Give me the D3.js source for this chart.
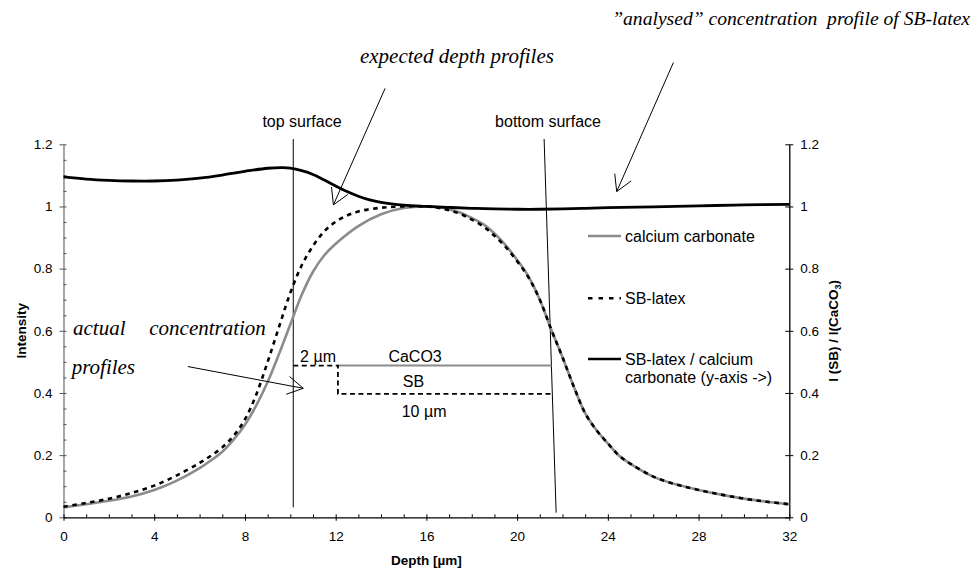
<!DOCTYPE html>
<html>
<head>
<meta charset="utf-8">
<script src="https://cdn.jsdelivr.net/npm/d3@7"></script>
<style>
  body { margin: 0; background: #fff; }
  svg { display: block; }
  text { font-family: "Liberation Sans", Arial, sans-serif; fill: #000; }
  .serif { font-family: "Liberation Serif", "Times New Roman", serif; font-style: italic; font-size: 21px; white-space: pre; }
</style>
</head>
<body>
<svg id="chart" width="977" height="574"></svg>
<script>
// ---- depth profiles (intensity, normalised) ----
const caco3Depth = [0,1,2,3,4,5,6,6.5,7,7.5,8,8.5,9,9.5,10,10.5,11,11.5,12,13,14,15,16,16.5,17,17.5,18,18.5,19,19.5,20,20.5,21,21.5,22,22.5,23,23.5,24,24.5,25,26,27,28,29,30,31,32];
const caco3 = [0.032,0.042,0.053,0.067,0.088,0.118,0.158,0.183,0.211,0.25,0.298,0.36,0.435,0.525,0.62,0.715,0.79,0.843,0.88,0.937,0.975,0.995,1.0,0.998,0.991,0.98,0.963,0.943,0.913,0.875,0.828,0.775,0.70,0.605,0.515,0.42,0.335,0.28,0.238,0.198,0.172,0.131,0.106,0.088,0.073,0.06,0.05,0.042];

const sbDepth = [0,1,2,3,4,5,6,6.5,7,7.5,8,8.5,9,9.5,10,10.5,11,11.5,12,12.5,13,14,15,16,16.5,17,17.5,18,18.5,19,19.5,20,20.5,21,21.5,22,22.5,23,23.5,24,24.5,25,26,27,28,29,30,31,32];
const sbLatex = [0.034,0.046,0.06,0.078,0.102,0.135,0.175,0.198,0.225,0.262,0.315,0.395,0.5,0.612,0.722,0.81,0.873,0.92,0.951,0.971,0.984,0.996,1.0,1.0,0.996,0.988,0.976,0.958,0.936,0.906,0.869,0.824,0.772,0.70,0.605,0.515,0.42,0.335,0.28,0.238,0.198,0.172,0.131,0.106,0.088,0.073,0.06,0.05,0.042];

// ratio I(SB)/I(CaCO3), right axis
const ratioDepth = [0,1,2,3,4,5,6,7,8,9,9.7,10,10.5,11,11.5,12,12.5,13,13.5,14,15,16,17,18,19,20,21,22,23,24,26,28,30,32];
const ratio = [1.095,1.088,1.084,1.082,1.082,1.085,1.091,1.101,1.113,1.123,1.125,1.123,1.115,1.103,1.085,1.066,1.048,1.033,1.021,1.013,1.004,1.0,0.997,0.994,0.992,0.991,0.991,0.992,0.994,0.996,0.999,1.002,1.005,1.007];

// ---- axis ticks ----
const xTicks = [0,4,8,12,16,20,24,28,32];
const xTickLabels = ["0","4","8","12","16","20","24","28","32"];
const yTicks = [0,0.2,0.4,0.6,0.8,1.0,1.2];
const yTickLabels = ["0","0.2","0.4","0.6","0.8","1","1.2"];
const y2TickLabels = ["0","0.2","0.4","0.6","0.8","1","1.2"];

// ---- idealised (expected) step profiles ----
const caco3Step = [[12.1,0.488],[21.52,0.488]];
const sbStep = [[10.13,0.488],[12.1,0.488],[12.1,0.397],[21.52,0.397]];
const topSurface = [[10.13,1.217],[10.13,0.032]];
const bottomSurface = [[21.19,1.217],[21.72,0.015]];

const svg = d3.select("#chart");
svg.append("rect").attr("width",977).attr("height",574).attr("fill","#fff");

const x = d3.scaleLinear().domain([0,32]).range([63.5,789.3]);
const y = d3.scaleLinear().domain([0,1.2]).range([517.3,144.3]);
const y2 = y.copy();

const axisFont = g => g.attr("font-size",13.5).attr("font-family","'Liberation Sans', Arial, sans-serif");

// left axis
const gL = svg.append("g").attr("transform",`translate(${x(0)},0)`)
  .call(d3.axisLeft(y).tickValues(yTicks).tickFormat((d,i)=>yTickLabels[i]).tickSizeInner(4).tickSizeOuter(0).tickPadding(7))
  .call(axisFont);
gL.selectAll(".tick line").attr("x1",3).attr("stroke","#555");
gL.select(".domain").attr("stroke","#777").attr("stroke-width",1.3);
svg.append("g").attr("transform",`translate(${x(0)},0)`)
  .call(d3.axisLeft(y).tickValues(d3.range(0,1.2001,0.05).filter(v=>Math.abs(v*5-Math.round(v*5))>1e-6)).tickSize(-3).tickFormat(""))
  .call(g=>{g.select(".domain").remove(); g.selectAll("line").attr("stroke","#555");});

// bottom axis
const gB = svg.append("g").attr("transform",`translate(0,${y(0)})`)
  .call(d3.axisBottom(x).tickValues(xTicks).tickFormat((d,i)=>xTickLabels[i]).tickSizeInner(3.5).tickSizeOuter(0).tickPadding(11))
  .call(axisFont);
gB.selectAll(".tick line").attr("y1",-3);
gB.select(".domain").attr("stroke-width",1.3);
svg.append("g").attr("transform",`translate(0,${y(0)})`)
  .call(d3.axisBottom(x).tickValues(d3.range(0,33,1).filter(v=>v%4!==0)).tickSize(-3).tickFormat(""))
  .call(g=>g.select(".domain").remove());

// right axis
const gR = svg.append("g").attr("transform",`translate(${x(32)},0)`)
  .call(d3.axisRight(y2).tickValues(yTicks).tickFormat((d,i)=>y2TickLabels[i]).tickSizeInner(4).tickSizeOuter(0).tickPadding(7))
  .call(axisFont);
gR.selectAll(".tick line").attr("x1",-4);
gR.select(".domain").attr("stroke-width",1.3);

// axis titles
svg.append("text").attr("x",x(16)).attr("y",565).attr("text-anchor","middle")
  .attr("font-size",13.5).attr("font-weight","bold").text("Depth [µm]");
svg.append("text").attr("transform",`translate(25.5,${(y(0)+y(1.2))/2}) rotate(-90)`).attr("text-anchor","middle")
  .attr("font-size",13.5).attr("font-weight","bold").text("Intensity");
const rt = svg.append("text").attr("transform",`translate(838,${(y(0)+y(1.2))/2}) rotate(-90)`).attr("text-anchor","middle")
  .attr("font-size",13.5).attr("font-weight","bold");
rt.append("tspan").text("I (SB) / I(CaCO");
rt.append("tspan").attr("font-size",9).attr("dy",3).text("3");
rt.append("tspan").attr("dy",-3).text(")");

// surface markers
const seg = d3.line().x(d=>x(d[0])).y(d=>y(d[1]));
svg.append("path").attr("d",seg(topSurface)).attr("stroke","#000").attr("stroke-width",1).attr("fill","none");
svg.append("path").attr("d",seg(bottomSurface)).attr("stroke","#000").attr("stroke-width",1).attr("fill","none");

// step profiles
svg.append("path").attr("d",seg(caco3Step)).attr("stroke","#8c8c8c").attr("stroke-width",2).attr("fill","none");
svg.append("path").attr("d",seg(sbStep)).attr("stroke","#000").attr("stroke-width",1.8).attr("stroke-dasharray","5,3.5").attr("fill","none");

// measured curves
const curve = (xs,ys,yy) => d3.line().curve(d3.curveCatmullRom.alpha(0.5)).x((d,i)=>x(xs[i])).y((d,i)=>yy(ys[i]))(ys);
svg.append("path").attr("d",curve(caco3Depth,caco3,y)).attr("stroke","#8c8c8c").attr("stroke-width",2.6).attr("fill","none");
svg.append("path").attr("d",curve(sbDepth,sbLatex,y)).attr("stroke","#000").attr("stroke-width",2.6).attr("stroke-dasharray","4.5,4.5").attr("fill","none");
svg.append("path").attr("d",curve(ratioDepth,ratio,y2)).attr("stroke","#000").attr("stroke-width",2.8).attr("fill","none");

// step labels
const lab = (t,dx,dy,anchor) => svg.append("text").attr("x",x(dx)).attr("y",y(dy)).attr("text-anchor",anchor).attr("font-size",16).text(t);
lab("2 µm",10.43,0.5,"start");
lab("CaCO3",15.5,0.5,"middle");
lab("SB",15.43,0.42,"middle");
lab("10 µm",15.9,0.324,"middle");
lab("top surface",8.77,1.255,"start");
lab("bottom surface",19.03,1.255,"start");

// legend
const legend = [
  {label:["calcium carbonate"], stroke:"#8c8c8c", dash:null, y:236},
  {label:["SB-latex"], stroke:"#000", dash:"4.5,6", y:298.3},
  {label:["SB-latex / calcium","carbonate (y-axis ->)"], stroke:"#000", dash:null, y:359}
];
legend.forEach(l=>{
  svg.append("line").attr("x1",588).attr("x2",621).attr("y1",l.y).attr("y2",l.y)
    .attr("stroke",l.stroke).attr("stroke-width",2.6).attr("stroke-dasharray",l.dash);
  l.label.forEach((t,i)=>svg.append("text").attr("x",625).attr("y",l.y+5.7+i*18.3).attr("font-size",16).text(t));
});

// annotations with arrows
const arrows = [
  {from:[14.18,1.380], to:[11.9,1.005]},
  {from:[26.89,1.463], to:[24.39,1.048]},
  {from:[5.48,0.485], to:[10.57,0.415]}
];
arrows.forEach(a=>{
  const x0=x(a.from[0]), y0=y(a.from[1]), x1=x(a.to[0]), y1=y(a.to[1]);
  const ang = Math.atan2(y0-y1, x0-x1), L=18, h=Math.PI/6;
  svg.append("line").attr("x1",x0).attr("y1",y0).attr("x2",x1).attr("y2",y1).attr("stroke","#000").attr("stroke-width",1);
  svg.append("path").attr("d",`M${x1+L*Math.cos(ang-h)},${y1+L*Math.sin(ang-h)}L${x1},${y1}L${x1+L*Math.cos(ang+h)},${y1+L*Math.sin(ang+h)}`)
    .attr("stroke","#000").attr("stroke-width",1).attr("fill","none");
});

const notes = [
  {t:"expected depth profiles", x:13.07, y:1.462, anchor:"start", size:21},
  {t:"”analysed” concentration  profile of SB-latex", x:39.97, y:1.584, anchor:"end", size:19.6},
  {t:"actual", x:0.42, y:0.587, anchor:"start", size:21},
  {t:"concentration", x:3.78, y:0.587, anchor:"start", size:21},
  {t:"profiles", x:0.36, y:0.461, anchor:"start", size:21}
];
notes.forEach(n=>svg.append("text").attr("class","serif").attr("x",x(n.x)).attr("y",y(n.y))
  .attr("text-anchor",n.anchor).style("font-size",n.size+"px").text(n.t));
</script>
</body>
</html>
